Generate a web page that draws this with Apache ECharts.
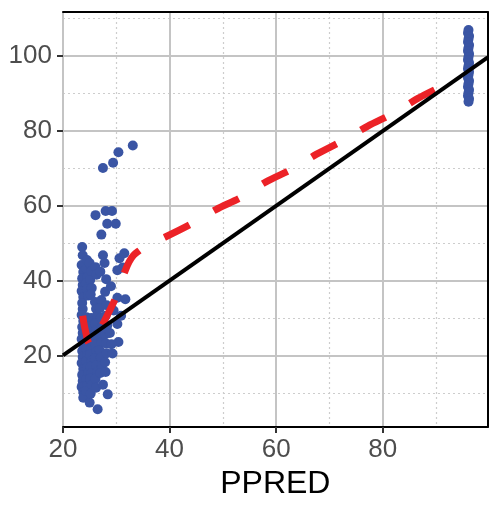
<!DOCTYPE html>
<html><head><meta charset="utf-8">
<script src="https://cdn.jsdelivr.net/npm/echarts@6/dist/echarts.min.js"></script>
<style>html,body{margin:0;padding:0;background:#fff}#c{width:489px;height:505px}</style>
</head><body><div id="c"></div>
<script>
// ---- data ----
const xMajorTicks = [20, 40, 60, 80];
const xMinorTicks = [30, 50, 70, 90];
const yMajorTicks = [20, 40, 60, 80, 100];
const yMinorTicks = [10, 30, 50, 70, 90, 110];
const xRange = [20, 99.7];
const yRange = [0.85, 111.8];

// cluster of observations at low PPRED
const clusterX = [
  23.6,23.7,23.5,23.8,23.6,23.7,23.5,23.8,23.6,23.7,23.5,23.8,23.6,23.7,23.5,23.8,23.6,23.7,23.5,23.8,23.6,23.7,23.5,23.8,23.8,
  24.5,24.4,24.6,24.3,24.5,24.7,24.4,24.6,24.3,24.5,24.7,24.4,24.6,24.3,24.5,24.7,24.4,24.6,24.3,25.0,
  25.0,25.3,25.1,25.4,25.2,25.3,25.1,25.4,25.2,25.3,25.1,25.4,25.2,25.3,25.1,25.4,25.2,
  26.1,26.3,26.0,26.2,26.4,26.0,26.2,26.3,26.1,26.3,26.0,26.2,26.4,26.1,26.2,26.5,
  27.5,27.8,27.0,27.2,26.9,27.1,27.3,27.0,27.2,26.9,27.1,27.3,27.0,27.5,
  28.1,27.9,28.2,28.0,28.3,27.9,28.1,28.2,27.9,28.0,28.4,
  29.3,30.4,30.2,30.9,30.2,31.7,30.6,31.5,31.2,30.2,29.0,29.5,28.8,29.1,
  27.2,28.3,29.9,28.0,29.2,26.1,27.5,29.4,30.4,33.1
];
const clusterY = [
  49.0,46.8,44.2,42.3,40.6,38.8,37.2,35.6,34.0,32.4,30.8,29.2,27.6,26.0,24.4,22.8,21.2,19.6,18.0,16.4,14.8,13.2,11.6,10.2,8.7,
  45.5,43.1,41.0,39.3,37.6,36.0,30.2,28.5,26.8,25.0,23.3,21.6,20.0,18.4,16.8,15.2,13.6,12.0,10.5,7.4,
  44.7,42.6,40.2,38.0,36.3,30.0,27.8,25.8,24.0,22.0,20.2,18.6,17.0,15.3,13.8,12.2,9.8,
  43.6,41.6,34.3,32.5,30.6,28.6,26.7,24.8,22.9,21.0,19.2,17.4,15.6,13.8,11.4,5.6,
  46.8,44.7,42.4,34.8,32.6,30.1,27.7,25.6,23.4,21.4,19.4,17.2,15.3,12.2,
  40.4,37.0,33.4,30.6,28.0,25.6,23.2,20.6,18.2,15.6,9.6,
  20.5,23.6,28.4,30.6,35.4,35.0,46.0,47.3,43.5,42.8,38.5,32.0,26.0,23.0,
  52.3,55.2,55.2,58.6,58.6,57.5,70.1,71.5,74.3,76.1
];
// column of observations at high PPRED
const columnX = [96.1,96.0,96.2,96.1,96.0,96.2,96.1,96.0,96.2,96.1,96.0,96.2,96.1,96.0,96.2,96.1,96.0,96.2,96.1,96.0,96.2,96.1,96.0,96.2,96.1];
const columnY = [107.0,106.2,105.4,104.6,103.8,103.0,102.2,101.4,100.6,99.8,99.0,98.2,97.4,96.6,95.8,95.0,94.2,93.4,92.6,91.8,91.0,90.2,89.4,88.6,87.8];

// smoothed (dashed red) curve, visible extent
const smoothX = [23.7,24.0,24.4,24.7,25.2,25.7,26.2,26.8,27.3,28.4,29.6,30.6,31.6,32.4,33.2,34.1,36.0,39.1,44.0,48.7,53.5,58.1,63.1,67.6,72.6,77.2,82.1,86.6,91.5,94.0];
const smoothY = [30.6,28.0,25.4,23.7,22.7,22.8,24.4,26.3,27.9,31.0,34.5,38.4,42.4,45.0,46.7,47.8,49.6,51.6,55.1,59.0,62.3,66.4,69.9,73.8,77.5,81.3,84.8,88.7,92.2,93.9];

// identity line
const refLineX = [20, 99.7];
const refLineY = [20, 99.7];

const zip = (a, b) => a.map((v, i) => [v, b[i]]);
const FONT = "'Liberation Sans', Arial, sans-serif";
const majorGrid = { show: true, lineStyle: { color: '#c4c4c4', width: 2 } };
const minorGrid = { show: true, lineStyle: { color: '#cdcdcd', width: 1.2, type: [2, 3] } };

const chart = echarts.init(document.getElementById('c'), null, { renderer: 'canvas' });
chart.setOption({
  animation: false,
  backgroundColor: '#fff',
  grid: { left: 63, right: 1.3, top: 12, bottom: 70, containLabel: false },
  xAxis: [
    {
      type: 'value', min: xRange[0], max: xRange[1], position: 'bottom',
      name: 'PPRED', nameLocation: 'middle', nameGap: 34,
      nameTextStyle: { fontSize: 32, color: '#000', fontFamily: FONT },
      axisLine: { show: true, onZero: false, lineStyle: { color: '#000', width: 2 } },
      axisTick: { show: true, customValues: xMajorTicks, length: 6, lineStyle: { color: '#333', width: 2 } },
      axisLabel: { show: true, customValues: xMajorTicks, fontSize: 26, color: '#4d4d4d', fontFamily: FONT, margin: 10 },
      splitLine: majorGrid
    },
    {
      type: 'value', min: xRange[0], max: xRange[1], position: 'top',
      axisLine: { show: true, onZero: false, lineStyle: { color: '#000', width: 2 } },
      axisTick: { show: false, customValues: xMinorTicks },
      axisLabel: { show: false, customValues: xMinorTicks },
      splitLine: minorGrid
    }
  ],
  yAxis: [
    {
      type: 'value', min: yRange[0], max: yRange[1], position: 'left',
      axisLine: { show: false },
      axisTick: { show: true, customValues: yMajorTicks, length: 6, lineStyle: { color: '#333', width: 2 } },
      axisLabel: { show: true, customValues: yMajorTicks, fontSize: 26, color: '#4d4d4d', fontFamily: FONT, margin: 11 },
      splitLine: majorGrid
    },
    {
      type: 'value', min: yRange[0], max: yRange[1], position: 'right',
      axisLine: { show: true, onZero: false, lineStyle: { color: '#000', width: 2 } },
      axisTick: { show: false, customValues: yMinorTicks },
      axisLabel: { show: false, customValues: yMinorTicks },
      splitLine: minorGrid
    }
  ],
  series: [
    {
      type: 'scatter', xAxisIndex: 0, yAxisIndex: 0, z: 2,
      data: zip(clusterX, clusterY).concat(zip(columnX, columnY)),
      symbolSize: 10, itemStyle: { color: '#3a55a4', opacity: 1 }
    },
    {
      type: 'line', xAxisIndex: 0, yAxisIndex: 0, z: 3,
      data: zip(smoothX, smoothY), smooth: 0.3, symbol: 'none',
      lineStyle: { color: '#ec2227', width: 7, type: [28, 28], cap: 'butt' }
    },
    {
      type: 'line', xAxisIndex: 0, yAxisIndex: 0, z: 4,
      data: zip(refLineX, refLineY), symbol: 'none',
      lineStyle: { color: '#000', width: 4 }
    }
  ]
});
</script>
</body></html>
